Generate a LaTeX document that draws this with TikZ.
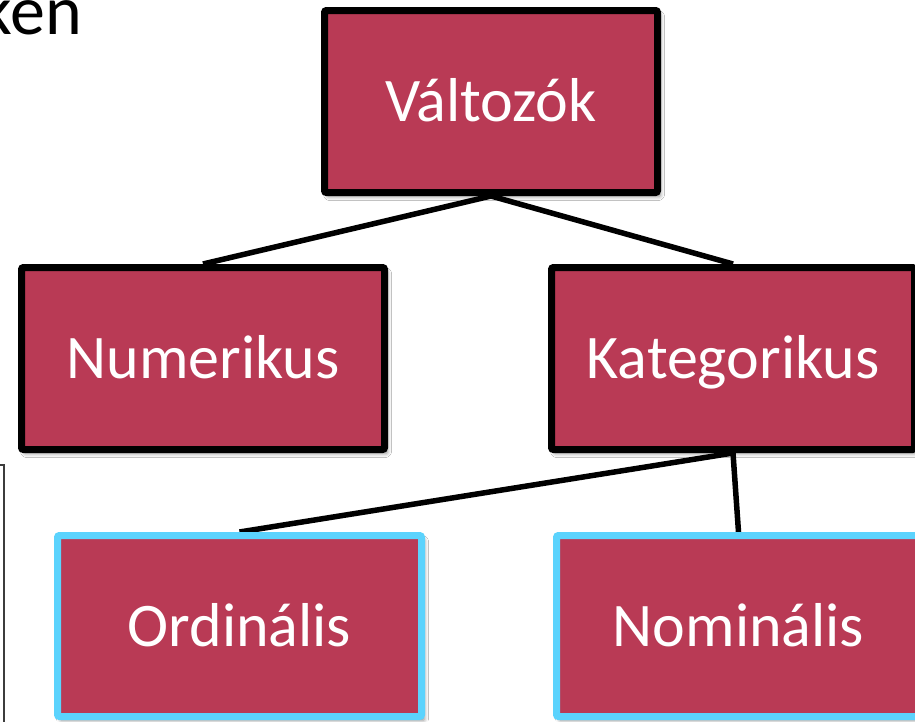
\documentclass[tikz,border=0pt]{standalone}
\usepackage{fontspec}
\setmainfont{Carlito}
\usetikzlibrary{shadows.blur}
\pgfdeclarelayer{background}
\pgfsetlayers{background,main}
\definecolor{boxred}{RGB}{185,58,85}
\definecolor{boxcyan}{RGB}{91,211,253}
\definecolor{framegray}{RGB}{60,60,60}
\tikzset{
  catbox/.style={draw=black, line width=7pt, fill=boxred, rounded corners=2pt,
    text=white, font=\fontsize{62}{70}\selectfont, inner sep=0pt,
    text height=40pt, text depth=0pt,
    blur shadow={shadow xshift=3pt, shadow yshift=-4pt, shadow blur radius=4pt, shadow opacity=45}},
  leafbox/.style={catbox, draw=boxcyan},
  link/.style={line width=5.5pt, black},
}
\begin{document}
\begin{tikzpicture}[x=1pt,y=-1pt]
\useasboundingbox (0,0) rectangle (915,721);
\clip (0,0) rectangle (915,721);

% partial title text
\node[anchor=base east, inner sep=0pt, font=\fontsize{70}{80}\selectfont] (title) at (82,34) {ken};

% partial frame on the left
\coordinate (fa) at (-2,465);
\coordinate (fb) at (4,465);
\coordinate (fc) at (4,725);
\draw[framegray, line width=1.3pt] (fa) -- (fb) -- (fc);

% nodes
\node[catbox, minimum width=333pt, minimum height=182pt] (valt) at (491,101.5) {Változók};
\node[catbox, minimum width=363pt, minimum height=182pt] (num) at (203,358.5) {Numerikus};
\node[catbox, minimum width=363pt, minimum height=182pt] (kat) at (733,358.5) {Kategorikus};
\node[leafbox, minimum width=364pt, minimum height=181pt] (ord) at (239.5,626) {Ordinális};
\node[leafbox, minimum width=364pt, minimum height=181pt] (nom) at (738.5,626) {Nominális};

% connectors behind boxes
\begin{pgfonlayer}{background}
\fill[white] (0,0) rectangle (915,721);
\draw[link] (valt.south) -- (num.north);
\draw[link] (valt.south) -- (kat.north);
\draw[link] (kat.south) -- (ord.north);
\draw[link] (kat.south) -- (nom.north);
\end{pgfonlayer}
\end{tikzpicture}
\end{document}
